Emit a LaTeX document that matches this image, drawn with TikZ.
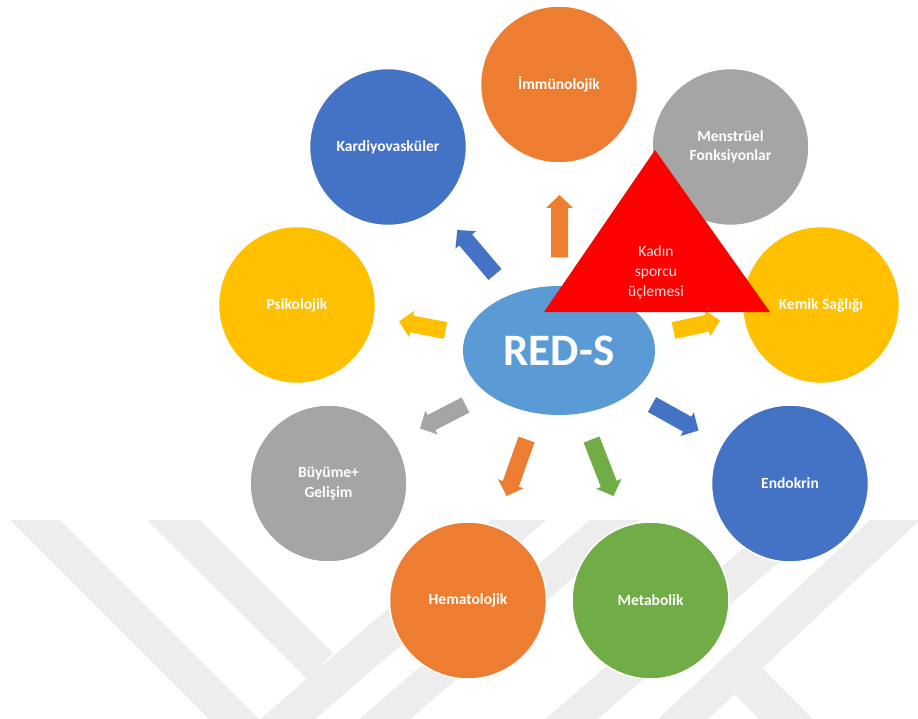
\documentclass[tikz,border=0pt]{standalone}
\usepackage{fontspec}
\setmainfont{Carlito}
\usetikzlibrary{calc,shapes.geometric}
\definecolor{cOrange}{HTML}{ED7D31}
\definecolor{cBlue}{HTML}{4472C4}
\definecolor{cGray}{HTML}{A5A5A5}
\definecolor{cGold}{HTML}{FFC000}
\definecolor{cLight}{HTML}{5B9BD5}
\definecolor{cGreen}{HTML}{70AD47}
\definecolor{cRed}{HTML}{FF0000}
\definecolor{cWm}{HTML}{EDEDED}
\definecolor{cPink}{HTML}{FFE6E6}
% block arrow from tail #1 to tip #2 in colour #3
\newcommand\blockarrow[3]{%
  \coordinate (ba-neck) at ($(#2)!13pt!(#1)$);
  \fill[#3] ($(#1)!8.5pt!90:(#2)$) -- ($(ba-neck)!8.5pt!90:(#2)$)
    -- ($(ba-neck)!13.5pt!90:(#2)$) -- (#2)
    -- ($(ba-neck)!13.5pt!-90:(#2)$) -- ($(ba-neck)!8.5pt!-90:(#2)$)
    -- ($(#1)!8.5pt!-90:(#2)$) -- cycle;}
\begin{document}
\begin{tikzpicture}[x=1pt,y=-1pt,
  bubble/.style={circle, minimum size=157pt, inner sep=0pt, draw=white,
    line width=1.5pt, text=white, align=center,
    font=\bfseries\fontsize{15.5}{19.5}\selectfont},
  wm/.style={fill=cWm}]
\useasboundingbox (0,0) rectangle (918,719);
\fill[white] (0,0) rectangle (918,719);
% watermark
\begin{scope}
\clip (0,520) rectangle (918,719);
\fill[wm] (10,520) -- (60,520) -- (262,722) -- (212,722) -- cycle;
\fill[wm] (147,520) -- (200,520) -- (333,653) -- (307,679) -- cycle;
\fill[wm] (258,721) -- (491,520) -- (546,520) -- (313,721) -- cycle;
\fill[wm] (357,721) -- (590,520) -- (640,520) -- (408,721) -- cycle;
\fill[wm] (543,721) -- (776,520) -- (828,520) -- (595,721) -- cycle;
\fill[wm] (656,721) -- (870,520) -- (920,520) -- (706,721) -- cycle;
\fill[wm] (733,693) -- (761,667) -- (815,721) -- (761,721) -- cycle;
\end{scope}
% bubbles
\node[bubble, fill=cOrange] (imm) at (559,84.5) {İmmünolojik};
\node[bubble, fill=cBlue] (kard) at (388,147) {Kardiyovasküler};
\node[bubble, fill=cGray] (mens) at (730.5,147) {Menstrüel\\Fonksiyonlar};
\node[bubble, fill=cGold] (psi) at (297,305) {Psikolojik};
\node[bubble, fill=cGold] (kem) at (821,305) {Kemik Sağlığı};
\node[bubble, fill=cGray] (buy) at (328.5,483.5) {Büyüme+\\Gelişim};
\node[bubble, fill=cBlue] (endo) at (790,483.5) {Endokrin};
\node[bubble, fill=cOrange] (hem) at (468,600.5) {Hematolojik};
\node[bubble, fill=cGreen] (met) at (650.5,600.5) {Metabolik};
% centre
\node[ellipse, fill=cLight, minimum width=192pt, minimum height=129pt,
  inner sep=0pt, text=white, font=\bfseries\fontsize{45}{50}\selectfont]
  (reds) at (559,350.5) {RED-S};
% arrows
\coordinate (aU1) at (559.5,257.5); \coordinate (aU2) at (559.5,195);
\coordinate (aUL1) at (495,274.5); \coordinate (aUL2) at (457.3,230);
\coordinate (aL1) at (445.5,330.5); \coordinate (aL2) at (399,321.5);
\coordinate (aR1) at (673.5,330.5); \coordinate (aR2) at (720,320.5);
\coordinate (aLL1) at (465.5,405); \coordinate (aLL2) at (420,428.5);
\coordinate (aLR1) at (652,404.5); \coordinate (aLR2) at (698.5,430.5);
\coordinate (aBL1) at (526.5,439.5); \coordinate (aBL2) at (506.5,496);
\coordinate (aBR1) at (591.5,439.5); \coordinate (aBR2) at (613.5,496);
\blockarrow{aU1}{aU2}{cOrange}
\blockarrow{aUL1}{aUL2}{cBlue}
\blockarrow{aL1}{aL2}{cGold}
\blockarrow{aR1}{aR2}{cGold}
\blockarrow{aLL1}{aLL2}{cGray}
\blockarrow{aLR1}{aLR2}{cBlue}
\blockarrow{aBL1}{aBL2}{cOrange}
\blockarrow{aBR1}{aBR2}{cGreen}
% triangle
\coordinate (tA) at (655,150);
\coordinate (tL) at (544,312);
\coordinate (tR) at (770,312);
\fill[cRed] (tA) -- (tL) -- (tR) -- cycle;
\node[text=cPink, align=center, font=\fontsize{15.5}{20}\selectfont]
  (triad) at (656,272) {Kadın\\sporcu\\üçlemesi};
\end{tikzpicture}
\end{document}
